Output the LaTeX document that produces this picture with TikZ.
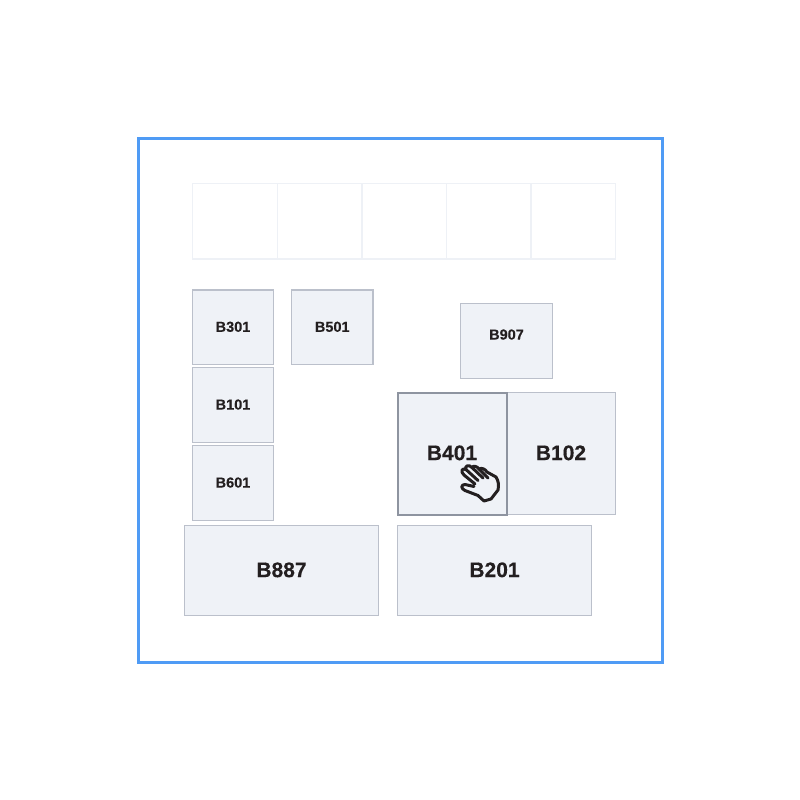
\documentclass[tikz,border=0pt]{standalone}
\usepackage{fontspec}
\setmainfont[BoldFeatures={FakeBold=0.35}]{Liberation Sans}
\definecolor{framecol}{HTML}{4F9BF5}
\definecolor{cellcol}{HTML}{EEF1F6}
\definecolor{roomcol}{HTML}{EFF2F7}
\definecolor{edgecol}{HTML}{BBC0CB}
\definecolor{activecol}{HTML}{8E94A0}
\definecolor{labelcol}{HTML}{231F20}
\tikzset{
	cell/.style={draw=cellcol, line width=1.8pt, inner sep=0pt},
	room/.style={draw=edgecol, line width=1.2pt, fill=roomcol, inner sep=0pt, text=labelcol, text depth=1pt, font=\bfseries\fontsize{14.5}{14.5}\selectfont},
	bigroom/.style={room, text depth=1.5pt, font=\bfseries\fontsize{21}{21}\selectfont},
	hand/.style={draw=labelcol, line width=3pt, line cap=round, line join=round},
}
\newcommand{\cellat}[5]{\node [cell, minimum width=#4pt, minimum height=#5pt] (#1) at (#2,#3) {};}
\begin{document}
\begin{tikzpicture}[x=1pt, y=-1pt]
	\useasboundingbox (0,0) rectangle (800,800);
	\fill [white] (0,0) rectangle (800,800);
	\node [draw=framecol, line width=3pt, inner sep=0pt, minimum width=524pt, minimum height=524pt] (frame) at (400,400) {};
	% top row
	\cellat{c1}{235}{221.25}{85}{75.5}
	\cellat{c2}{319.75}{221.25}{84.5}{75.5}
	\cellat{c3}{404.25}{221.25}{84.5}{75.5}
	\cellat{c4}{488.75}{221.25}{84.5}{75.5}
	\cellat{c5}{573.25}{221.25}{84.5}{75.5}
	% small rooms
	\node [room, minimum width=81pt, minimum height=74.5pt] (b301) at (233,327.25) {B301};
	\node [room, minimum width=81.5pt, minimum height=74.5pt] (b501) at (332.25,327.25) {B501};
	\node [room, minimum width=92pt, minimum height=75pt] (b907) at (506.5,341) {};
	\node [room, minimum width=81pt, minimum height=75pt] (b101) at (233,405) {B101};
	\node [room, minimum width=81pt, minimum height=75pt] (b601) at (233,483) {B601};
	\node [text=labelcol, text depth=1pt, font=\bfseries\fontsize{14.5}{14.5}\selectfont] (b907label) at (506.5,335) {B907};
	% big rooms
	\node [bigroom, minimum width=109pt, minimum height=122pt] (b102) at (561,453.5) {B102};
	\node [bigroom, draw=activecol, line width=2pt, minimum width=109pt, minimum height=122pt] (b401) at (452,453.5) {B401};
	\node [bigroom, minimum width=194pt, minimum height=90pt] (b887) at (281.5,570.5) {B887};
	\node [bigroom, minimum width=194pt, minimum height=90pt] (b201) at (494.5,570.5) {B201};
	% hand
	\draw [hand, fill=roomcol] (475,484) -- (464,475) .. controls (460,471.5) and (462,467.5) .. (466,469.5)
		.. controls (464,466) and (469,464) .. (472,467.5) .. controls (473,465.5) and (477,466) .. (479,469)
		.. controls (482,467.5) and (485,469) .. (487,472) -- (496,477) .. controls (498.5,481) and (499,485) .. (498,490)
		-- (491,499) -- (484,501) -- (478,495.5) -- (465,490.5) .. controls (460.5,488.5) and (461,484.5) .. (465,484.5) -- (474,486.5);
	\draw [hand] (466,469.5) -- (478,480.5);
	\draw [hand] (472,467.5) -- (483,478);
	\draw [hand] (479,469) -- (488,478);
\end{tikzpicture}
\end{document}
